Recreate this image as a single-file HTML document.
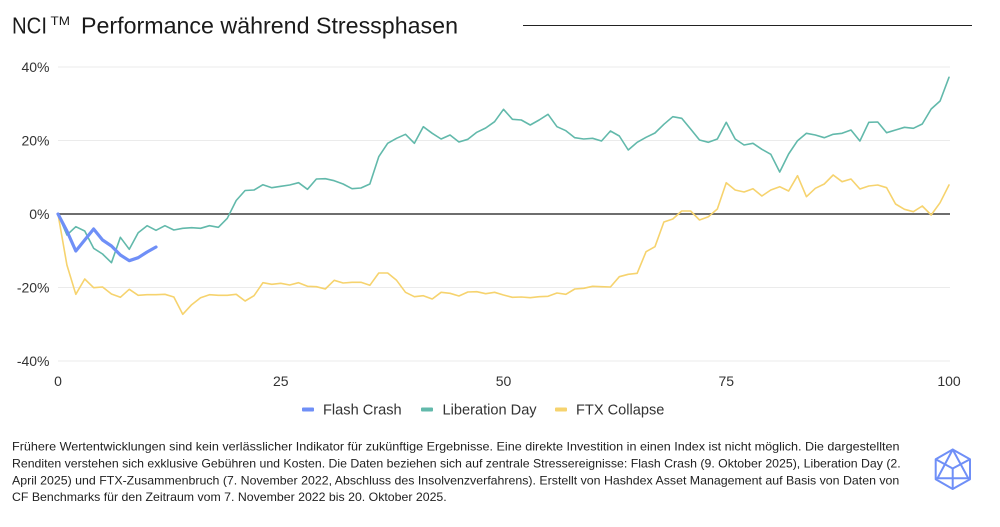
<!DOCTYPE html>
<html>
<head>
<meta charset="utf-8">
<style>
  html,body{margin:0;padding:0;background:#fff;}
  svg{display:block;}
  text{font-family:"Liberation Sans", Arial, sans-serif;}
</style>
</head>
<body>
<svg width="1000" height="527" viewBox="0 0 1000 527" xmlns="http://www.w3.org/2000/svg">
  <rect x="0" y="0" width="1000" height="527" fill="#ffffff"/>

  <!-- Title -->
  <text x="12" y="33.3" font-size="23" fill="#1a1a1a" textLength="35" lengthAdjust="spacingAndGlyphs">NCI</text>
  <text x="50.5" y="25" font-size="11.5" fill="#1a1a1a" textLength="19.5" lengthAdjust="spacingAndGlyphs">TM</text>
  <text x="81" y="33.3" font-size="23" fill="#1a1a1a" textLength="377" lengthAdjust="spacingAndGlyphs">Performance während Stressphasen</text>
  <line x1="523" y1="25.5" x2="972" y2="25.5" stroke="#222" stroke-width="1"/>

  <!-- Grid lines -->
  <g stroke="#ebebeb" stroke-width="1">
    <line x1="58" y1="67" x2="950" y2="67"/>
    <line x1="58" y1="140.5" x2="950" y2="140.5"/>
    <line x1="58" y1="287.5" x2="950" y2="287.5"/>
    <line x1="58" y1="361" x2="950" y2="361"/>
  </g>
  <line x1="58" y1="214" x2="950" y2="214" stroke="#6e6e6e" stroke-width="2"/>

  <!-- Y labels -->
  <g font-size="14" fill="#333" text-anchor="end">
    <text x="49.5" y="72">40%</text>
    <text x="49.5" y="145.5">20%</text>
    <text x="49.5" y="219">0%</text>
    <text x="49.5" y="292.5">-20%</text>
    <text x="49.5" y="366">-40%</text>
  </g>

  <!-- X labels -->
  <g font-size="14" fill="#333" text-anchor="middle">
    <text x="58" y="386">0</text>
    <text x="280.75" y="386">25</text>
    <text x="503.5" y="386">50</text>
    <text x="726.25" y="386">75</text>
    <text x="949" y="386">100</text>
  </g>

  <!-- Series -->
  <g transform="translate(58,0) scale(8.91,1)" fill="none" stroke-linejoin="round" stroke-linecap="round">
    <polyline vector-effect="non-scaling-stroke" stroke="#f6d36e" stroke-width="1.6" points="0,214 1,265 2,294.3 3,279 4,287.7 5,287 6,294 7,297.3 8,289.3 9,295.3 10,294.7 11,294.7 12,294.3 13,297 14,314.3 15,304.7 16,297.7 17,294.7 18,295.3 19,295.3 20,294.3 21,301 22,295.7 23,282.7 24,284.3 25,283.3 26,285 27,282.7 28,286.3 29,286.7 30,289 31,280.3 32,283 33,282.3 34,282.3 35,285.3 36,273 37,273 38,280.3 39,292.3 40,296.7 41,295.7 42,299 43,292.3 44,293.3 45,296 46,292 47,291.7 48,293.7 49,292.3 50,295 51,297.3 52,297 53,297.7 54,296.7 55,296.3 56,293 57,294.3 58,289 59,288.3 60,286.3 61,286.7 62,287 63,276.7 64,274.3 65,273.3 66,251.7 67,246.7 68,222 69,219 70,211 71,211 72,220 73,216.7 74,209 75,182.7 76,190 77,192 78,188.7 79,196 80,190 81,186.7 82,191 83,175.7 84,196.7 85,188.3 86,184 87,175 88,181.7 89,179 90,189 91,186 92,185 93,187.7 94,204 95,209.3 96,211.7 97,206 98,215 99,202.7 100,185"/>
    <polyline vector-effect="non-scaling-stroke" stroke="#62b9ab" stroke-width="1.6" points="0,214 1,235 2,226.7 3,231 4,248.3 5,254 6,262.7 7,237.3 8,249.3 9,232.7 10,225.7 11,230.3 12,225.7 13,230 14,228.3 15,227.7 16,228.3 17,225.7 18,227.3 19,218.3 20,200.5 21,190.5 22,190 23,184.7 24,187.7 25,186.3 26,185 27,182.7 28,189.3 29,179 30,178.7 31,180.7 32,184 33,188.7 34,188 35,184 36,156.7 37,143.3 38,138.3 39,134.3 40,143.3 41,126.7 42,133.3 43,139 44,135 45,142 46,139.3 47,132.3 48,128 49,121.7 50,109.3 51,119.3 52,120 53,125 54,120 55,114.3 56,126.7 57,130.7 58,137.7 59,139 60,138.3 61,141 62,131 63,136 64,150 65,142.3 66,137.3 67,133 68,124.3 69,116.7 70,118.3 71,129 72,140 73,142.3 74,139 75,122.3 76,139 77,145 78,143.3 79,149.3 80,154.3 81,172 82,154 83,140.7 84,133.3 85,135 86,137.7 87,134.3 88,133.3 89,130 90,141 91,122.3 92,122 93,132.7 94,130 95,127.3 96,128.3 97,124 98,109 99,101 100,77.3"/>
    <polyline vector-effect="non-scaling-stroke" stroke="#6f8ff7" stroke-width="3.2" points="0,214 1,231 2,251 3,240 4,229 5,240 6,246 7,255 8,260.7 9,257.7 10,252 11,247"/>
  </g>

  <!-- Legend -->
  <rect x="302" y="407.5" width="12" height="4" rx="1" fill="#6f8ff7"/>
  <text x="323" y="414.3" font-size="14.6" fill="#333">Flash Crash</text>
  <rect x="421" y="407.5" width="12" height="4" rx="1" fill="#62b9ab"/>
  <text x="442.5" y="414.3" font-size="14.6" fill="#333">Liberation Day</text>
  <rect x="555" y="407.5" width="12" height="4" rx="1" fill="#f6d36e"/>
  <text x="576" y="414.3" font-size="14.6" fill="#333">FTX Collapse</text>

  <!-- Footer -->
  <g font-size="12" fill="#222">
    <text x="12" y="450.7" textLength="887.5" lengthAdjust="spacingAndGlyphs">Frühere Wertentwicklungen sind kein verlässlicher Indikator für zukünftige Ergebnisse. Eine direkte Investition in einen Index ist nicht möglich. Die dargestellten</text>
    <text x="12" y="467.5" textLength="888.7" lengthAdjust="spacingAndGlyphs">Renditen verstehen sich exklusive Gebühren und Kosten. Die Daten beziehen sich auf zentrale Stressereignisse: Flash Crash (9. Oktober 2025), Liberation Day (2.</text>
    <text x="12" y="484.3" textLength="887.3" lengthAdjust="spacingAndGlyphs">April 2025) und FTX-Zusammenbruch (7. November 2022, Abschluss des Insolvenzverfahrens). Erstellt von Hashdex Asset Management auf Basis von Daten von</text>
    <text x="12" y="501" textLength="434.7" lengthAdjust="spacingAndGlyphs">CF Benchmarks für den Zeitraum vom 7. November 2022 bis 20. Oktober 2025.</text>
  </g>

  <!-- Logo -->
  <g fill="none" stroke="#6f8ff7" stroke-width="2" stroke-linejoin="round">
    <polygon points="952.7,449.5 970,459.3 970,479.3 952.7,489 935.7,479.3 935.7,459.3"/>
    <polyline points="935.7,459.3 952.7,468.5 970,459.3"/>
    <line x1="952.7" y1="468.5" x2="952.7" y2="489"/>
    <polyline points="937.5,478.3 952.7,449.5 968.3,478.3"/>
    <line x1="935.7" y1="478.3" x2="970" y2="478.3"/>
  </g>
</svg>
</body>
</html>
